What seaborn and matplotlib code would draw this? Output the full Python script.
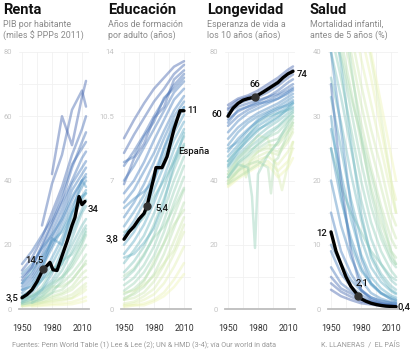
import numpy as np
import pandas as pd
import matplotlib
matplotlib.use('Agg')
import matplotlib.pyplot as plt
import seaborn as sns
from matplotlib.colors import LinearSegmentedColormap

nan = np.nan

# ---- data (approximate) ----
YEARS = [1950, 1960, 1970, 1980, 1990, 2000, 2010, 2014]

# Renta: PIB por habitante (miles $ PPPs 2011)
RENTA = [
    [nan, nan, nan, 42, 60, 51, 66, 71],
    [nan, nan, 26, 39, 48, 62, 68, 63],
    [12, 16, 22, 30, 38, 48, 56, 60],
    [14, 18, 23, 28, 36, 45, 50, 52],
    [10, 13, 19, 26, 33, 40, 47, 49],
    [9, 13, 20, 27, 34, 44, 52, 55],
    [11, 14, 19, 23, 28, 35, 40, 41],
    [8, 11, 17, 24, 31, 39, 44, 46],
    [8, 12, 16, 21, 24, 30, 35, 36],
    [7, 10, 15, 22, 29, 37, 42, 44],
    [6, 7, 12, 22, 20, 30, 40, 38],
    [6, 9, 14, 20, 27, 34, 40, 42],
    [5, 8, 13, 19, 25, 32, 38, 40],
    [4, 6, 10, 16, 22, 30, 35, 37],
    [4, 6, 9, 12, 14, 22, 30, 32],
    [3, 5, 9, 14, 20, 28, 34, 36],
    [nan, 3, 6, 11, 18, 24, 31, 34],
    [2.5, 4, 6, 9, 14, 20, 26, 28],
    [2, 4, 7, 12, 15, 17, 22, 25],
    [2, 3, 5, 8, 12, 18, 24, 26],
    [nan, 2, 4, 7, 10, 15, 21, 24],
    [1.5, 2, 3, 5, 9, 14, 20, 23],
    [3, 4, 6, 8, 10, 13, 18, 20],
    [2, 3, 4, 6, 8, 11, 15, 17],
    [1.5, 2.5, 3.5, 5, 6, 9, 13, 15],
    [3, 4, 5, 7, 7, 9, 13, 14],
    [nan, 2, 3, 4, 5, 7, 11, 12],
    [1.5, 2, 2.5, 3.5, 4.5, 6, 9, 10],
    [1, 1.5, 2, 3, 3.5, 4.5, 7, 8],
    [nan, 1.5, 2, 2.5, 3, 3.5, 6, 7],
    [1, 1.3, 1.8, 2.2, 2.6, 3.3, 5, 6],
    [0.8, 1, 1.3, 1.6, 1.8, 2.2, 3.2, 3.8],
    [nan, 0.8, 1, 1.2, 1.3, 1.5, 2.2, 2.6],
]
SPAIN_RENTA_YEARS = [1950, 1955, 1960, 1965, 1971, 1975, 1978, 1981, 1985, 1990,
                     1995, 2000, 2003, 2007, 2010, 2013]
SPAIN_RENTA = [3.5, 4.5, 6, 8.5, 12.3, 13.5, 14.5, 12.2, 12, 16.5,
               21, 26, 28.5, 35, 32.5, 33.5]

# Educación: años de formación por adulto
EDU_YEARS = [1950, 1960, 1970, 1980, 1990, 2000, 2010]
EDUCACION = [
    [9.3, 10.3, 11.2, 12.0, 12.6, 13.2, 13.5],
    [8.5, 9.5, 10.4, 11.3, 12.0, 12.8, 13.3],
    [6.8, 8.2, 9.0, 10.4, 11.0, 12.5, 13.0],
    [7.8, 8.6, 9.5, 10.5, 11.4, 12.2, 12.8],
    [8.0, 8.3, 9.4, 10.2, 11.5, 12.0, 12.6],
    [7.0, 7.8, 8.8, 9.8, 10.8, 11.8, 12.4],
    [6.3, 7.0, 8.0, 9.2, 10.3, 11.4, 12.0],
    [5.8, 6.5, 7.5, 8.5, 9.7, 10.8, 11.6],
    [5.0, 5.8, 6.8, 8.0, 9.3, 10.5, 11.3],
    [4.5, 5.3, 6.2, 7.4, 8.7, 10.0, 11.0],
    [5.5, 6.0, 6.4, 7.0, 8.8, 10.2, 11.0],
    [4.0, 4.8, 5.8, 7.0, 8.3, 9.6, 10.6],
    [3.5, 4.2, 5.2, 6.5, 7.8, 9.2, 10.2],
    [3.0, 3.7, 4.6, 5.8, 7.2, 8.7, 9.8],
    [2.8, 3.0, 3.6, 4.4, 5.8, 7.9, 9.6],
    [2.5, 3.2, 4.0, 5.2, 6.6, 8.2, 9.4],
    [4.2, 4.4, 5.0, 6.1, 7.0, 8.0, 9.0],
    [2.0, 2.6, 3.4, 4.6, 6.0, 7.6, 8.9],
    [1.6, 2.1, 2.9, 4.0, 5.4, 7.0, 8.3],
    [1.3, 1.7, 2.4, 3.4, 4.8, 6.4, 7.8],
    [1.0, 1.4, 2.0, 2.9, 4.2, 5.8, 7.2],
    [1.8, 2.2, 3.0, 3.9, 4.5, 5.5, 6.6],
    [0.8, 1.1, 1.6, 2.4, 3.6, 5.1, 6.5],
    [0.6, 0.8, 1.2, 1.9, 3.0, 4.4, 5.8],
    [0.5, 0.9, 1.5, 2.6, 3.6, 4.6, 5.4],
    [0.5, 0.6, 0.9, 1.5, 2.4, 3.7, 5.0],
    [0.9, 1.0, 1.3, 1.8, 2.5, 3.2, 4.6],
    [0.3, 0.4, 0.7, 1.1, 1.9, 3.0, 4.2],
    [0.2, 0.3, 0.5, 0.8, 1.4, 2.3, 3.4],
    [0.2, 0.2, 0.3, 0.5, 0.9, 1.6, 2.5],
    [0.1, 0.2, 0.2, 0.4, 0.7, 1.2, 1.9],
]
SPAIN_EDU_YEARS = [1950, 1955, 1960, 1965, 1970, 1973, 1980, 1982, 1988, 1993,
                   2000, 2006, 2010]
SPAIN_EDU = [3.8, 4.2, 4.5, 4.9, 5.2, 5.6, 7.2, 7.7, 7.7, 8.3, 9.8, 10.8, 10.8]

# Longevidad: esperanza de vida a los 10 años
LONG_YEARS = [1950, 1960, 1970, 1980, 1990, 2000, 2010, 2015]
LONGEVIDAD = [
    [63.5, 65.5, 66.5, 68, 70, 72, 74.5, 75.5],
    [62.5, 65, 66, 67, 69, 71, 73.5, 74.5],
    [62, 64, 65, 66, 67.5, 69.5, 72, 73],
    [61, 63, 64, 65, 66, 68, 70.5, 71.5],
    [59, 61.5, 63, 64.5, 66, 67, 69, 70],
    [58, 62, 63, 64, 64.5, 65.5, 67.5, 68.5],
    [57, 60, 62, 63.5, 65, 66.5, 68, 69],
    [55, 58.5, 61, 62.5, 64, 65.5, 67, 68],
    [53, 56.5, 59, 61, 62.5, 64, 66, 67],
    [51, 55, 58, 60, 61.5, 63, 65, 66],
    [50, 52, 55.5, 59, 61, 62.5, 63.5, 64.5],
    [49, 53, 56, 58.5, 60.5, 62, 64, 65],
    [47.5, 51, 54, 57, 59, 61, 63, 64],
    [44.5, 49, 53, 56, 57.5, 59.5, 62.5, 64],
    [46, 50, 54, 58, 60, 61, 62, 62.5],
    [46, 49.5, 52.5, 55.5, 58, 60, 62, 63],
    [45, 48, 51, 54, 56.5, 58.5, 61, 62],
    [44, 47, 50, 52.5, 55, 57, 60, 61.5],
    [41, 45.5, 48, 51.5, 54, 56.5, 59.5, 61],
    [43, 46, 49, 51, 53.5, 55, 58.5, 60],
    [42, 45, 47.5, 50, 52, 53, 57, 59],
    [39, 41, 43, 45, 48, 52, 56, 58],
    [41, 44, 46.5, 49, 51, 51, 55, 57],
    [40, 43, 45.5, 47.5, 49, 48, 52, 55],
    [39.5, 42, 44.5, 46.5, 47.5, 45, 49, 52],
    [38.5, 41, 43.5, 45.5, 46, 43, 46, 50],
    [38, 40.5, 42.5, 44.5, 45, 41, 44, 47],
]
# countries with sharp dips (own year grids)
DIP_YEARS = [
    [1950, 1960, 1970, 1974, 1977, 1980, 1990, 2000, 2010, 2015],
    [1950, 1960, 1970, 1980, 1990, 1993, 1996, 2000, 2010, 2015],
    [1950, 1960, 1970, 1980, 1990, 2000, 2004, 2010, 2015],
    [1950, 1960, 1965, 1968, 1972, 1980, 1990, 2000, 2010, 2015],
]
DIP_VALUES = [
    [41, 45, 44, 35, 19, 42, 48, 52, 58, 60],
    [40, 43, 45, 46, 44, 36, 46, 47, 55, 58],
    [42, 47, 50, 54, 53, 42, 37, 45, 52],
    [39, 43, 45, 41, 46, 49, 50, 49, 53, 56],
]
SPAIN_LONG_YEARS = [1950, 1955, 1960, 1965, 1970, 1977, 1985, 1990, 1995, 2000,
                    2005, 2010, 2015]
SPAIN_LONG = [60, 62.5, 64, 65, 65.5, 66, 67.5, 68.5, 69.5, 70.5, 72, 73.2, 74]

# Salud: mortalidad infantil antes de 5 años (%)
SALUD_YEARS = [1950, 1960, 1970, 1980, 1990, 2000, 2010, 2015]
SALUD = [
    [3, 2, 1.4, 0.9, 0.7, 0.5, 0.35, 0.3],
    [4, 2.7, 1.9, 1.2, 0.9, 0.6, 0.45, 0.4],
    [5, 3.2, 2.4, 1.5, 1.0, 0.7, 0.5, 0.45],
    [6.5, 4, 2.8, 1.7, 1.1, 0.8, 0.6, 0.5],
    [9, 5.5, 3.5, 2.2, 1.3, 0.9, 0.7, 0.6],
    [10, 7, 4.5, 2.8, 1.8, 1.3, 1.0, 0.9],
    [35, 20, 9, 3, 1.5, 0.9, 0.6, 0.5],
    [30, 18, 10, 6, 4, 2.5, 1.8, 1.5],
    [15, 9, 5.5, 3, 1.8, 1.2, 0.9, 0.8],
    [40, 28, 16, 8, 4, 2.5, 1.5, 1.2],
    [20, 13, 8, 4.5, 2.5, 1.6, 1.1, 1.0],
    [25, 17, 11, 6.5, 3.8, 2.4, 1.6, 1.4],
    [28, 21, 14, 8.5, 5, 3.2, 2.1, 1.8],
    [33, 25, 17, 11, 6.5, 4.2, 2.8, 2.3],
    [48, 38, 26, 15, 8, 5, 3, 2.5],
    [36, 29, 21, 14, 8.5, 5.5, 3.6, 3.0],
    [40, 33, 25, 17, 11, 7, 4.5, 3.8],
    [25, 19, 15, 12, 9, 7, 5, 4.5],
    [43, 36, 28, 20, 13.5, 9, 6, 5],
    [45, 39, 31, 23, 16, 11, 7.5, 6.5],
    [45, 40, 33, 27, 21, 15, 9, 7],
    [58, 50, 38, 27, 18, 12, 8, 7],
    [48, 42, 34, 26, 19, 13.5, 9, 8],
    [50, 45, 37, 29, 22, 16, 11, 9.5],
    [52, 47, 40, 32, 25, 19, 13, 11],
    [55, 50, 43, 35, 28, 22, 15, 13],
    [58, 53, 47, 39, 32, 25, 18, 15],
    [65, 60, 54, 47, 39, 30, 20, 15],
    [60, 56, 50, 43, 36, 28, 20, 17],
    [62, 58, 52, 46, 40, 32, 24, 20],
]
SPAIN_SALUD_YEARS = [1950, 1955, 1960, 1965, 1970, 1977, 1980, 1985, 1990, 1995,
                     2000, 2005, 2010, 2015]
SPAIN_SALUD = [12, 9, 7, 5, 3.5, 2.1, 1.6, 1.2, 0.9, 0.7, 0.55, 0.45, 0.4, 0.35]

# highlighted Spain points
DOT_YEARS = [1971, 1973, 1977, 1977]
DOT_VALUES = [12.3, 5.6, 66, 2.1]

TITLES = ['Renta', 'Educación', 'Longevidad', 'Salud']
SUBTITLES = ['PIB por habitante\n(miles $ PPPs 2011)',
             'Años de formación\npor adulto (años)',
             'Esperanza de vida a\nlos 10 años (años)',
             'Mortalidad infantil,\nantes de 5 años (%)']
YTICKS = [[0, 20, 40, 60, 80], [0, 3.5, 7, 10.5, 14],
          [0, 20, 40, 60, 80], [0, 10, 20, 30, 40]]
YTICKLABELS = [['0', '20', '40', '60', '80'], ['0', '', '7', '10.5', '14'],
               ['0', '20', '40', '', '80'], ['0', '10', '20', '30', '40']]
XTICKS = [1950, 1980, 2010]


def to_long(year_lists, value_lists):
    rows = []
    for i, (yrs, vals) in enumerate(zip(year_lists, value_lists)):
        for y, v in zip(yrs, vals):
            if not np.isnan(v):
                rows.append((f'c{i:02d}', y, v))
    return pd.DataFrame(rows, columns=['pais', 'year', 'value'])


cmap = LinearSegmentedColormap.from_list(
    'gyb', ['#f3f6b6', '#cbe7b2', '#92cfbb', '#5eaac8', '#4a80c0', '#4564ad'])

panels = [
    (to_long([YEARS] * len(RENTA), RENTA), False, SPAIN_RENTA_YEARS, SPAIN_RENTA, (0, 80)),
    (to_long([EDU_YEARS] * len(EDUCACION), EDUCACION), False, SPAIN_EDU_YEARS, SPAIN_EDU, (0, 14)),
    (to_long([LONG_YEARS] * len(LONGEVIDAD) + DIP_YEARS, LONGEVIDAD + DIP_VALUES),
     False, SPAIN_LONG_YEARS, SPAIN_LONG, (0, 80)),
    (to_long([SALUD_YEARS] * len(SALUD), SALUD), True, SPAIN_SALUD_YEARS, SPAIN_SALUD, (0, 40)),
]

W, H = 414, 354
fig = plt.figure(figsize=(W / 100, H / 100), dpi=100)
sns.set_style('white')
plt.rcParams['font.family'] = ['Roboto', 'DejaVu Sans']

lefts = [19, 121, 225, 328]
title_x = [3, 108, 207, 310]
axes = []
for k, (df, reverse, sp_years, sp_vals, ylim) in enumerate(panels):
    ax = fig.add_axes([lefts[k] / W, 1 - 309 / H, 70 / W, 257 / H])
    axes.append(ax)
    # colour by final value (rank)
    final = df.groupby('pais')['value'].last().sort_values(ascending=not reverse)
    order = list(final.index)
    n = len(order)
    pal = {c: cmap(0.02 + 0.98 * i / (n - 1)) for i, c in enumerate(order)}
    sns.lineplot(data=df, x='year', y='value', hue='pais', hue_order=order,
                 palette=pal, estimator=None, lw=1.8, alpha=0.45,
                 legend=False, ax=ax)
    sns.lineplot(x=sp_years, y=sp_vals, color='black', lw=2.4, ax=ax)
    ax.plot(DOT_YEARS[k], DOT_VALUES[k], 'o', color='#333333', ms=5, zorder=5)

    ax.set_xlim(1947, 2017)
    ax.set_ylim(*ylim)
    ax.set_yticks(YTICKS[k])
    ax.set_yticklabels(YTICKLABELS[k])
    ax.set_yticks([(a + b) / 2 for a, b in zip(YTICKS[k][:-1], YTICKS[k][1:])], minor=True)
    ax.set_xticks(XTICKS)
    ax.set_xticks([1965, 1995], minor=True)
    ax.set_xticklabels([str(x) for x in XTICKS])
    ax.grid(which='both', color='#f1f1f1', lw=0.6)
    ax.set_axisbelow(True)
    ax.tick_params(axis='y', which='both', length=0, pad=5, labelsize=5.5, labelcolor='#c4c4c4')
    ax.tick_params(axis='x', which='both', length=0, pad=11, labelsize=6.3, labelcolor='#333333')
    ax.set_xlabel('')
    ax.set_ylabel('')
    for s in ['top', 'right', 'left']:
        ax.spines[s].set_visible(False)
    ax.spines['bottom'].set_color('#bdbdbd')
    ax.spines['bottom'].set_linewidth(1.3)
    ax.spines['bottom'].set_zorder(6)

    fig.text(title_x[k] / W, 1 - 3 / H, TITLES[k], fontsize=10.5, fontweight='bold',
             color='#111111', va='top', ha='left')
    fig.text(title_x[k] / W, 1 - 20 / H, SUBTITLES[k], fontsize=6.4, color='#8a8a8a',
             va='top', ha='left', linespacing=1.25)

lab = dict(fontsize=6.8, color='#111111', fontweight='medium')
a1, a2, a3, a4 = axes
a1.text(1946.5, 3.5, '3,5', ha='right', va='center', **lab)
a1.text(1962, 15.3, '14,5', ha='center', va='center', **lab)
a1.text(2015.5, 31, '34', ha='left', va='center', **lab)
a2.text(1944.5, 3.8, '3,8', ha='right', va='center', **lab)
a2.text(1981, 5.5, '5,4', ha='left', va='center', **lab)
a2.text(2013, 10.8, '11', ha='left', va='center', **lab)
a2.text(2004, 8.6, 'España', ha='left', va='center', **lab)
a3.text(1944.5, 60.5, '60', ha='right', va='center', **lab)
a3.text(1977, 70, '66', ha='center', va='center', **lab)
a3.text(2018.5, 73, '74', ha='left', va='center', **lab)
a4.text(1946, 11.8, '12', ha='right', va='center', **lab)
a4.text(1981, 4.0, '2,1', ha='center', va='center', **lab)
a4.text(2016, 0.3, '0,4', ha='left', va='center', **lab)

fig.text(12 / W, 1 - 345 / H,
         'Fuentes: Penn World Table (1) Lee & Lee (2); UN & HMD (3-4); vía Our world in data',
         fontsize=5.2, color='#9a9a9a', va='center', ha='left')
fig.text(400 / W, 1 - 345 / H, 'K. LLANERAS  /  EL PAÍS', fontsize=5.2, color='#9a9a9a',
         va='center', ha='right')

fig.savefig('out.png', dpi=100, facecolor='white')
